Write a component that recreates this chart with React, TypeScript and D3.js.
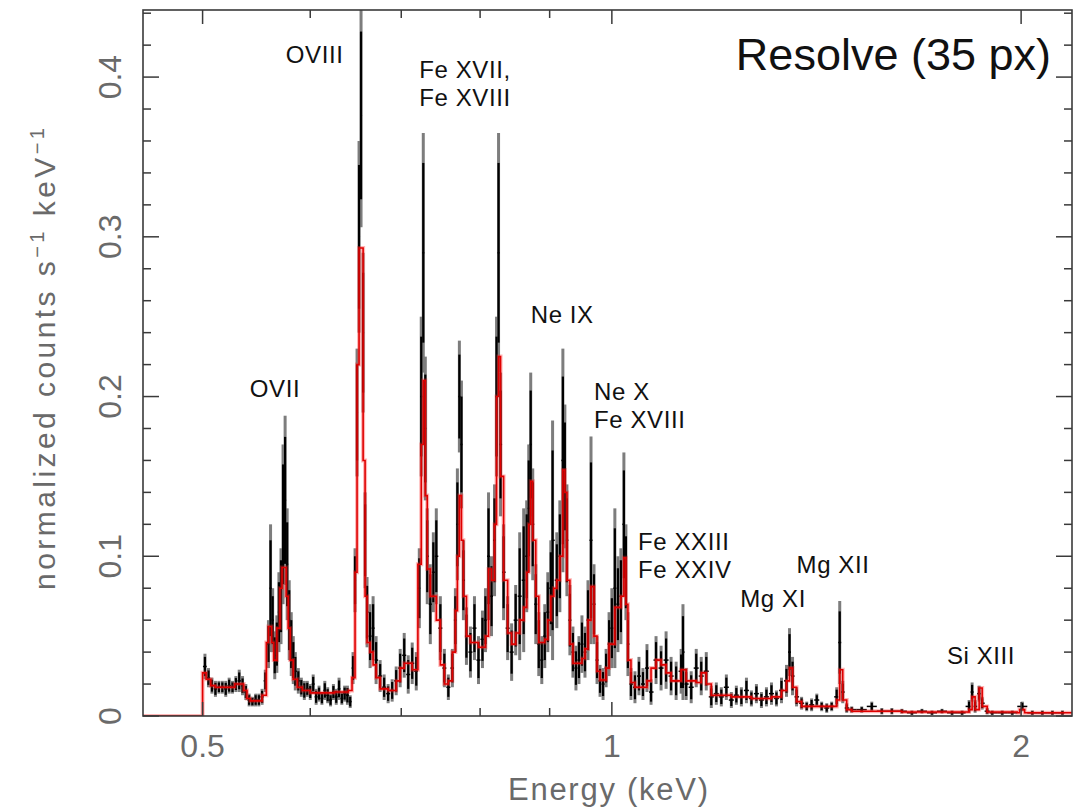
import React from 'react';
import * as d3 from 'd3';

// observed spectrum: bin centre (keV), normalized counts s^-1 keV^-1, 1-sigma error
const energyKeV = [
  0.502, 0.505, 0.508, 0.511, 0.514, 0.517, 0.52, 0.523, 0.526, 0.529, 0.532, 0.535, 0.538, 0.541, 0.544, 0.547, 0.55, 0.553,
  0.556, 0.559, 0.561, 0.563, 0.565, 0.567, 0.569, 0.571, 0.573, 0.575, 0.577, 0.579, 0.581, 0.583, 0.585, 0.588, 0.591, 0.594, 0.597,
  0.6, 0.603, 0.606, 0.609, 0.612, 0.615, 0.618, 0.621, 0.624, 0.627, 0.63, 0.633, 0.636, 0.639, 0.642,
  0.6451, 0.6473, 0.6495, 0.6517, 0.6539, 0.6562, 0.6584, 0.6606, 0.664, 0.6674, 0.6708, 0.6754, 0.68, 0.6846, 0.6893, 0.694,
  0.6987, 0.7035, 0.7083, 0.7131, 0.718, 0.7217, 0.7241, 0.7266, 0.7291, 0.7315, 0.7353, 0.7391, 0.7428, 0.7479, 0.753, 0.7581,
  0.7633, 0.7672, 0.7698, 0.7724, 0.7751, 0.7777, 0.7817, 0.787, 0.7924, 0.7978, 0.8032, 0.8073, 0.8115, 0.8156, 0.8198, 0.8226,
  0.8254, 0.8282, 0.8325, 0.8382, 0.8439, 0.8497, 0.8555, 0.8613, 0.8657, 0.8687, 0.8716, 0.8746, 0.8791, 0.8836, 0.8881, 0.8926,
  0.8972, 0.9018, 0.9045, 0.911, 0.9157, 0.9204, 0.9235, 0.9267, 0.9314, 0.9362, 0.941, 0.9458, 0.9506, 0.9555, 0.9604, 0.9653,
  0.9702, 0.9752, 0.9802, 0.9852, 0.9903, 0.9953, 1.0, 1.0051, 1.0103, 1.0154, 1.0206, 1.0241, 1.0276, 1.0329, 1.0399, 1.047,
  1.0541, 1.0613, 1.0686, 1.0777, 1.0869, 1.0962, 1.1055, 1.115, 1.1245, 1.128, 1.1341, 1.1438, 1.1536, 1.1634, 1.1734, 1.1834,
  1.1935, 1.2037, 1.214, 1.2243, 1.2347, 1.2453, 1.256, 1.2666, 1.2774, 1.2883, 1.2993, 1.3104, 1.3215, 1.3328, 1.3442, 1.3511,
  1.358, 1.3673, 1.379, 1.391, 1.4026, 1.415, 1.4267, 1.439, 1.4511, 1.4635, 1.471, 1.4785, 1.4885, 1.5012, 1.5269, 1.5531,
  1.5797, 1.6068, 1.6343, 1.6623, 1.6908, 1.7198, 1.7492, 1.7792, 1.8097, 1.8313, 1.8407, 1.8501, 1.8628, 1.8723, 1.8883, 1.9044,
  1.937, 1.9702, 2.004, 2.0383, 2.0732, 2.1088, 2.1449,
];

const countRate = [
  0.031, 0.024, 0.019, 0.017, 0.018, 0.018, 0.017, 0.019, 0.018, 0.02, 0.022, 0.019, 0.015, 0.01, 0.009, 0.01, 0.01, 0.012,
  0.022, 0.045, 0.08, 0.06, 0.038, 0.045, 0.065, 0.075, 0.12, 0.135, 0.095, 0.06, 0.045, 0.035, 0.028, 0.022, 0.018, 0.016, 0.017,
  0.015, 0.02, 0.012, 0.014, 0.011, 0.016, 0.013, 0.01, 0.015, 0.012, 0.017, 0.011, 0.014, 0.013, 0.009,
  0.03, 0.085, 0.19, 0.3, 0.376, 0.24, 0.11, 0.065, 0.05, 0.055, 0.035, 0.025, 0.018, 0.014, 0.016, 0.022,
  0.03, 0.038, 0.026, 0.033, 0.028, 0.08, 0.2, 0.29, 0.18, 0.1, 0.07, 0.09, 0.1, 0.055, 0.03, 0.018,
  0.03, 0.06, 0.12, 0.2, 0.17, 0.085, 0.05, 0.04, 0.055, 0.035, 0.048, 0.06, 0.1, 0.075, 0.11, 0.2,
  0.29, 0.17, 0.09, 0.055, 0.04, 0.06, 0.075, 0.085, 0.1, 0.13, 0.17, 0.12, 0.07, 0.045, 0.035, 0.05,
  0.065, 0.08, 0.11, 0.085, 0.1, 0.16, 0.15, 0.11, 0.06, 0.04, 0.03, 0.035, 0.045, 0.04, 0.06, 0.11,
  0.07, 0.035, 0.022, 0.02, 0.03, 0.045, 0.055, 0.08, 0.07, 0.075, 0.12, 0.09, 0.045, 0.02, 0.018, 0.025,
  0.02, 0.03, 0.015, 0.035, 0.03, 0.035, 0.025, 0.022, 0.028, 0.04, 0.02, 0.018, 0.03, 0.025, 0.028, 0.012,
  0.014, 0.012, 0.018, 0.01, 0.013, 0.012, 0.016, 0.011, 0.014, 0.01, 0.012, 0.014, 0.011, 0.016, 0.022, 0.04,
  0.025, 0.012, 0.008, 0.006, 0.007, 0.01, 0.006, 0.005, 0.006, 0.012, 0.046, 0.015, 0.005, 0.004, 0.004, 0.006,
  0.003, 0.003, 0.003, 0.002, 0.003, 0.002, 0.003, 0.002, 0.002, 0.006, 0.015, 0.006, 0.014, 0.008, 0.003, 0.002,
  0.002, 0.002, 0.006, 0.002, 0.002, 0.002, 0.002,
];

const countErr = [
  0.008, 0.006, 0.005, 0.005, 0.004, 0.004, 0.005, 0.005, 0.004, 0.005, 0.007, 0.006, 0.005, 0.004, 0.003, 0.004, 0.004, 0.005,
  0.007, 0.015, 0.04, 0.02, 0.015, 0.018, 0.025, 0.03, 0.05, 0.053, 0.035, 0.025, 0.02, 0.015, 0.012, 0.008, 0.006, 0.006, 0.005,
  0.005, 0.006, 0.005, 0.005, 0.004, 0.006, 0.005, 0.004, 0.005, 0.005, 0.007, 0.004, 0.005, 0.006, 0.004,
  0.01, 0.02, 0.04, 0.06, 0.07, 0.05, 0.03, 0.022, 0.02, 0.02, 0.015, 0.01, 0.008, 0.006, 0.007, 0.009,
  0.012, 0.014, 0.012, 0.013, 0.012, 0.025, 0.05, 0.075, 0.045, 0.03, 0.025, 0.025, 0.03, 0.02, 0.012, 0.008,
  0.012, 0.02, 0.035, 0.035, 0.04, 0.025, 0.018, 0.016, 0.02, 0.015, 0.018, 0.02, 0.04, 0.025, 0.035, 0.05,
  0.075, 0.045, 0.03, 0.02, 0.018, 0.022, 0.04, 0.045, 0.035, 0.04, 0.045, 0.035, 0.025, 0.02, 0.015, 0.02,
  0.025, 0.03, 0.075, 0.03, 0.035, 0.07, 0.045, 0.035, 0.022, 0.016, 0.014, 0.015, 0.018, 0.016, 0.025, 0.065,
  0.025, 0.015, 0.01, 0.01, 0.012, 0.02, 0.025, 0.05, 0.03, 0.03, 0.045, 0.03, 0.02, 0.01, 0.01, 0.012,
  0.01, 0.015, 0.008, 0.015, 0.014, 0.018, 0.012, 0.012, 0.014, 0.03, 0.01, 0.01, 0.012, 0.012, 0.012, 0.007,
  0.007, 0.006, 0.008, 0.005, 0.006, 0.006, 0.008, 0.005, 0.006, 0.005, 0.006, 0.007, 0.005, 0.008, 0.01, 0.015,
  0.012, 0.006, 0.004, 0.003, 0.004, 0.004, 0.003, 0.003, 0.003, 0.006, 0.026, 0.007, 0.003, 0.002, 0.002, 0.003,
  0.002, 0.002, 0.0015, 0.0015, 0.0015, 0.0015, 0.0015, 0.0015, 0.0015, 0.004, 0.006, 0.004, 0.005, 0.004, 0.002, 0.0015,
  0.0015, 0.0015, 0.003, 0.0015, 0.0015, 0.0015, 0.0015,
];

// best-fit model, drawn as a histogram (value holds from each energy to the next)
const modelEnergyKeV = [
  0.452, 0.5, 0.503, 0.507, 0.511, 0.528, 0.536, 0.539, 0.542, 0.553, 0.557, 0.559, 0.562, 0.564, 0.567, 0.57, 0.572, 0.576,
  0.578, 0.58, 0.583, 0.587, 0.592, 0.6, 0.625, 0.64, 0.644, 0.6473, 0.6495, 0.6517, 0.6562, 0.6584, 0.6606, 0.664, 0.6674,
  0.6708, 0.6754, 0.6846, 0.694, 0.6987, 0.7035, 0.7131, 0.72, 0.7241, 0.7266, 0.7291, 0.7315, 0.7353, 0.7428, 0.7479, 0.753,
  0.7581, 0.7633, 0.7672, 0.7698, 0.7724, 0.7751, 0.7777, 0.7817, 0.787, 0.7978, 0.8073, 0.8115, 0.8156, 0.8198, 0.8226,
  0.8254, 0.8282, 0.8325, 0.8382, 0.8439, 0.8497, 0.8555, 0.8613, 0.8657, 0.8687, 0.8716, 0.8746, 0.8791, 0.8836, 0.8926,
  0.8972, 0.9018, 0.9064, 0.911, 0.9157, 0.9204, 0.9235, 0.9267, 0.9314, 0.9362, 0.9506, 0.9555, 0.9604, 0.9653, 0.9702,
  0.9752, 0.9802, 0.9903, 0.9953, 1.0051, 1.0154, 1.0206, 1.0241, 1.0276, 1.0329, 1.0399, 1.0613, 1.0686, 1.0777, 1.0869,
  1.0962, 1.1055, 1.1245, 1.1341, 1.1536, 1.1634, 1.1734, 1.1834, 1.2243, 1.2666, 1.3104, 1.3328, 1.3442, 1.3511, 1.358,
  1.3673, 1.379, 1.4511, 1.4635, 1.471, 1.4785, 1.4885, 1.5012, 1.6343, 1.8313, 1.8407, 1.8501, 1.8628, 1.8723, 1.8883,
  1.987, 1.995, 2.012, 2.2,
];

const modelRate = [
  0, 0.027, 0.023, 0.019, 0.018, 0.02, 0.016, 0.011, 0.0095, 0.013, 0.046, 0.056, 0.046, 0.035, 0.055, 0.08, 0.093, 0.075,
  0.055, 0.035, 0.023, 0.018, 0.016, 0.0145, 0.015, 0.016, 0.024, 0.09, 0.22, 0.293, 0.16, 0.075, 0.046, 0.04, 0.032,
  0.024, 0.017, 0.016, 0.022, 0.03, 0.033, 0.029, 0.095, 0.17, 0.21, 0.138, 0.092, 0.075, 0.06, 0.032, 0.02,
  0.022, 0.04, 0.066, 0.1, 0.138, 0.11, 0.075, 0.05, 0.046, 0.043, 0.05, 0.092, 0.085, 0.12, 0.2,
  0.225, 0.15, 0.085, 0.052, 0.045, 0.052, 0.06, 0.068, 0.09, 0.12, 0.147, 0.11, 0.075, 0.046, 0.048,
  0.06, 0.075, 0.08, 0.085, 0.1, 0.154, 0.14, 0.085, 0.045, 0.033, 0.036, 0.042, 0.06, 0.081, 0.05,
  0.028, 0.0225, 0.03, 0.045, 0.068, 0.075, 0.099, 0.07, 0.035, 0.021, 0.018, 0.022, 0.03, 0.035, 0.032,
  0.027, 0.022, 0.029, 0.022, 0.021, 0.027, 0.02, 0.013, 0.012, 0.011, 0.012, 0.016, 0.022, 0.03, 0.018,
  0.009, 0.006, 0.006, 0.01, 0.029, 0.01, 0.004, 0.003, 0.0025, 0.004, 0.012, 0.004, 0.0175, 0.006, 0.0025,
  0.002, 0.004, 0.002, 0.002,
];

const xMajorTicks = [0.5, 1, 2];
const xMinorTicks = [0.6, 0.7, 0.8, 0.9];
const xTickLabels = ['0.5', '1', '2'];
const yMajorTicks = [0, 0.1, 0.2, 0.3, 0.4];
const yMinorTicks = [0.02, 0.04, 0.06, 0.08, 0.12, 0.14, 0.16, 0.18, 0.22, 0.24, 0.26, 0.28, 0.32, 0.34, 0.36, 0.38, 0.42, 0.44];
const yTickLabels = ['0', '0.1', '0.2', '0.3', '0.4'];

// ion labels, one entry per text line, anchored (left edge, baseline) in data coordinates
const lineLabels = [
  { text: 'OVIII', e: 0.5757, v: 0.409 },
  { text: 'Fe XVII,', e: 0.7217, v: 0.3995 },
  { text: 'Fe XVIII', e: 0.7217, v: 0.382 },
  { text: 'Ne IX', e: 0.8716, v: 0.2461 },
  { text: 'OVII', e: 0.5416, v: 0.1997 },
  { text: 'Ne X', e: 0.9702, v: 0.1979 },
  { text: 'Fe XVIII', e: 0.9702, v: 0.1804 },
  { text: 'Fe XXIII', e: 1.0452, v: 0.1039 },
  { text: 'Fe XXIV', e: 1.0452, v: 0.0864 },
  { text: 'Mg XII', e: 1.3673, v: 0.0895 },
  { text: 'Mg XI', e: 1.2429, v: 0.0683 },
  { text: 'Si XIII', e: 1.7638, v: 0.0326 },
];

const W = 1078;
const H = 809;
const plot = { left: 143, right: 1072, top: 10, bottom: 716 };

const x = d3.scaleLog().domain([0.452, 2.18]).range([plot.left, plot.right]);
const y = d3.scaleLinear().domain([0, 0.442]).range([plot.bottom, plot.top]);

const axisFont = "'Liberation Sans', Arial, sans-serif";
const axisColor = '#6a6a6a';

export default function App() {
  const n = energyKeV.length;
  const px = energyKeV.map((e) => x(e));

  const modelPoints = modelEnergyKeV.map((e, i) => [e, modelRate[i]] as [number, number]);
  const modelPath = d3
    .line<[number, number]>()
    .x((d) => x(d[0]))
    .y((d) => y(d[1]))
    .curve(d3.curveStepAfter)(modelPoints) as string;

  return (
    <svg width={W} height={H} style={{ position: 'absolute', left: 0, top: 0, background: '#fff' }}>
      <defs>
        <clipPath id="plotArea">
          <rect x={plot.left} y={plot.top} width={plot.right - plot.left} height={plot.bottom - plot.top} />
        </clipPath>
      </defs>
      <rect x={0} y={0} width={W} height={H} fill="#fff" />

      <g clipPath="url(#plotArea)">
        {/* error bars: grey full range underneath, black core on top */}
        {energyKeV.map((e, i) => (
          <line
            key={'g' + i}
            x1={px[i]}
            x2={px[i]}
            y1={y(countRate[i] + countErr[i])}
            y2={y(Math.max(0, countRate[i] - countErr[i]))}
            stroke="#7d7d7d"
            strokeWidth={3}
          />
        ))}
        {energyKeV.map((e, i) => {
          const left = i > 0 ? (px[i - 1] + px[i]) / 2 : px[i] - 2;
          const right = i < n - 1 ? (px[i] + px[i + 1]) / 2 : px[i] + 2;
          const hl = Math.max(left, px[i] - 7);
          const hr = Math.min(right, px[i] + 7);
          return (
            <g key={'b' + i}>
              <line
                x1={px[i]}
                x2={px[i]}
                y1={y(countRate[i] + countErr[i] * 0.75)}
                y2={y(Math.max(0, countRate[i] - countErr[i] * 0.75))}
                stroke="#000"
                strokeWidth={2.2}
              />
              <line x1={hl} x2={hr} y1={y(countRate[i])} y2={y(countRate[i])} stroke="#000" strokeWidth={1.5} />
            </g>
          );
        })}
        <path d={modelPath} fill="none" stroke="#ff3030" strokeOpacity={0.35} strokeWidth={4} />
        <path d={modelPath} fill="none" stroke="#e00000" strokeWidth={1.6} />
      </g>

      {/* frame */}
      <rect
        x={plot.left}
        y={plot.top}
        width={plot.right - plot.left}
        height={plot.bottom - plot.top}
        fill="none"
        stroke="#3a3a3a"
        strokeWidth={1.6}
      />

      {/* x ticks, top and bottom */}
      {xMajorTicks.map((t) => (
        <g key={'xM' + t}>
          <line x1={x(t)} x2={x(t)} y1={plot.top} y2={plot.top + 14} stroke="#3a3a3a" strokeWidth={1.5} />
          <line x1={x(t)} x2={x(t)} y1={plot.bottom} y2={plot.bottom - 14} stroke="#3a3a3a" strokeWidth={1.5} />
        </g>
      ))}
      {xMinorTicks.map((t) => (
        <g key={'xm' + t}>
          <line x1={x(t)} x2={x(t)} y1={plot.top} y2={plot.top + 8} stroke="#3a3a3a" strokeWidth={1.5} />
          <line x1={x(t)} x2={x(t)} y1={plot.bottom} y2={plot.bottom - 8} stroke="#3a3a3a" strokeWidth={1.5} />
        </g>
      ))}

      {/* y ticks, left and right */}
      {yMajorTicks.map((t) => (
        <g key={'yM' + t}>
          <line x1={plot.left} x2={plot.left + 16} y1={y(t)} y2={y(t)} stroke="#3a3a3a" strokeWidth={1.5} />
          <line x1={plot.right} x2={plot.right - 16} y1={y(t)} y2={y(t)} stroke="#3a3a3a" strokeWidth={1.5} />
        </g>
      ))}
      {yMinorTicks.map((t) => (
        <g key={'ym' + t}>
          <line x1={plot.left} x2={plot.left + 8} y1={y(t)} y2={y(t)} stroke="#3a3a3a" strokeWidth={1.5} />
          <line x1={plot.right} x2={plot.right - 8} y1={y(t)} y2={y(t)} stroke="#3a3a3a" strokeWidth={1.5} />
        </g>
      ))}

      {/* tick labels */}
      {xMajorTicks.map((t, i) => (
        <text
          key={'xl' + t}
          x={x(t)}
          y={757}
          textAnchor="middle"
          fontFamily={axisFont}
          fontSize={32}
          fill={axisColor}
        >
          {xTickLabels[i]}
        </text>
      ))}
      {yMajorTicks.map((t, i) => (
        <text
          key={'yl' + t}
          transform={`translate(121,${y(t)}) rotate(-90)`}
          textAnchor="middle"
          fontFamily={axisFont}
          fontSize={32}
          fill={axisColor}
        >
          {yTickLabels[i]}
        </text>
      ))}

      {/* axis titles */}
      <text
        x={508}
        y={800}
        fontFamily={axisFont}
        fontSize={31}
        fill={axisColor}
        textLength={200}
        lengthAdjust="spacing"
      >
        Energy (keV)
      </text>
      <text
        transform="translate(55,359) rotate(-90)"
        textAnchor="middle"
        fontFamily={axisFont}
        fontSize={30}
        fill={axisColor}
        textLength={462}
        lengthAdjust="spacing"
      >
        normalized counts s
        <tspan dy={-11} fontSize={20}>−1</tspan>
        <tspan dy={11}> keV</tspan>
        <tspan dy={-11} fontSize={20}>−1</tspan>
      </text>

      {/* ion annotations */}
      {lineLabels.map((lab, i) => (
        <text
          key={'lab' + i}
          x={x(lab.e)}
          y={y(lab.v)}
          fontFamily="'Liberation Sans', Arial, sans-serif"
          fontSize={24}
          letterSpacing={0.6}
          fill="#111"
        >
          {lab.text}
        </text>
      ))}

      <text
        x={1051}
        y={70}
        textAnchor="end"
        fontFamily="'Liberation Sans', Arial, sans-serif"
        fontSize={45}
        fill="#111"
      >
        Resolve (35 px)
      </text>
    </svg>
  );
}
